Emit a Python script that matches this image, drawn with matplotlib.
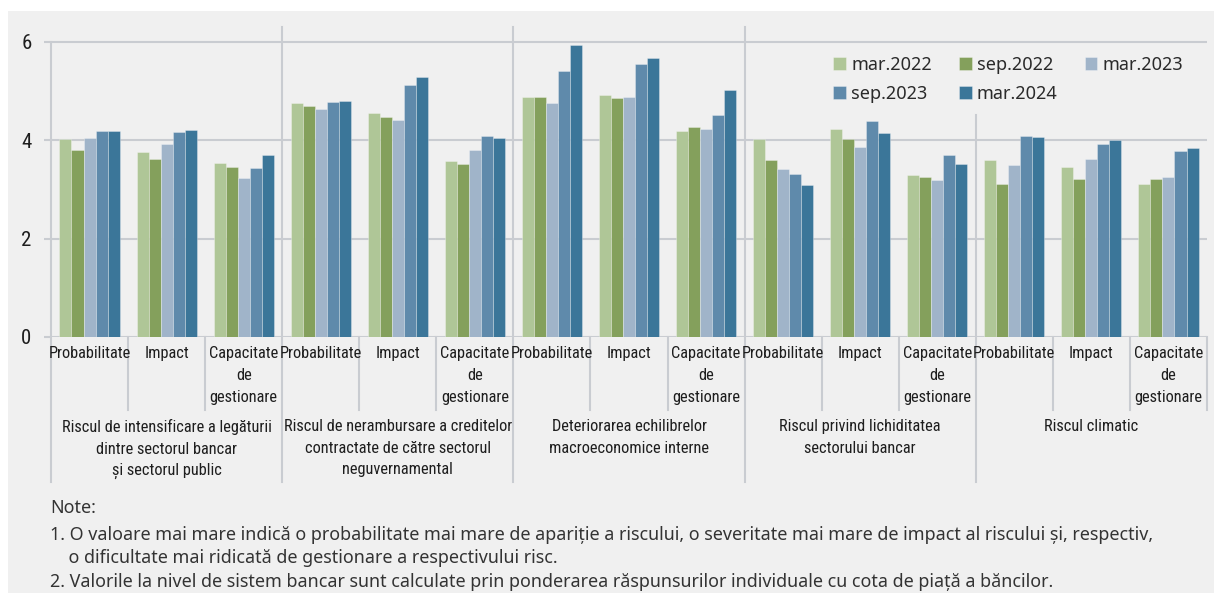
import numpy as np
import matplotlib.pyplot as plt
from matplotlib import font_manager as fm
from matplotlib.patches import Rectangle
from matplotlib.lines import Line2D

# ---- data ----
periods = ["mar.2022", "sep.2022", "mar.2023", "sep.2023", "mar.2024"]
colors = ["#afc697", "#84a05c", "#a0b4c9", "#5f8aab", "#3b7699"]

sub_labels = ["Probabilitate", "Impact", "Capacitate\nde\ngestionare"]
group_labels = [
    "Riscul de intensificare a legăturii\ndintre sectorul bancar\nși sectorul public",
    "Riscul de nerambursare a creditelor\ncontractate de către sectorul\nneguvernamental",
    "Deteriorarea echilibrelor\nmacroeconomice interne",
    "Riscul privind lichiditatea\nsectorului bancar",
    "Riscul climatic",
]

# one list per period, 15 values (5 risks x prob / impact / capacitate)
mar2022 = [4.02, 3.76, 3.53, 4.75, 4.55, 3.58, 4.87, 4.92, 4.19, 4.02, 4.22, 3.30, 3.59, 3.46, 3.11]
sep2022 = [3.80, 3.61, 3.45, 4.69, 4.48, 3.51, 4.87, 4.86, 4.27, 3.60, 4.02, 3.26, 3.11, 3.22, 3.22]
mar2023 = [4.05, 3.93, 3.23, 4.63, 4.41, 3.81, 4.76, 4.87, 4.22, 3.42, 3.87, 3.20, 3.50, 3.62, 3.26]
sep2023 = [4.18, 4.16, 3.43, 4.78, 5.13, 4.09, 5.41, 5.54, 4.52, 3.31, 4.39, 3.70, 4.09, 3.93, 3.78]
mar2024 = [4.18, 4.21, 3.70, 4.79, 5.28, 4.04, 5.94, 5.67, 5.02, 3.09, 4.14, 3.52, 4.07, 4.01, 3.85]
series = [mar2022, sep2022, mar2023, sep2023, mar2024]

note_lines = [
    "Note:",
    "1. O valoare mai mare indică o probabilitate mai mare de apariție a riscului, o severitate mai mare de impact al riscului și, respectiv,",
    "    o dificultate mai ridicată de gestionare a respectivului risc.",
    "2. Valorile la nivel de sistem bancar sunt calculate prin ponderarea răspunsurilor individuale cu cota de piață a băncilor.",
]


def narrow_font():
    # first condensed face available on this machine
    for fam in ["Liberation Sans Narrow", "DejaVu Sans Condensed",
                "Noto Sans Condensed", "Roboto Condensed", "Open Sans Condensed"]:
        try:
            fm.findfont(fm.FontProperties(family=fam), fallback_to_default=False)
            return {"family": [fam, "DejaVu Sans"]}
        except ValueError:
            pass
    for fam in ["Noto Sans", "DejaVu Sans", "Open Sans", "Roboto"]:
        path = fm.findfont(fm.FontProperties(family=fam, stretch="condensed"))
        if "ondensed" in path:
            return {"family": [fam], "stretch": "condensed"}
    return {"family": ["Roboto", "DejaVu Sans"]}


NARROW = narrow_font()
REGULAR = {"family": ["Noto Sans", "DejaVu Sans"]}

# ---- layout (pixel based) ----
W, H = 1214, 601
BG = "#f0f0f0"
GRID = "#c9ccd1"
TXT = "#1e1e1e"

fig = plt.figure(figsize=(W / 100, H / 100), dpi=100)
fig.patch.set_facecolor("white")
fig.patches.append(Rectangle((8 / W, 1 - 593 / H), (W - 8) / W, (593 - 11) / H,
                             transform=fig.transFigure, facecolor=BG,
                             edgecolor="none", zorder=-10))

x0, x1, ytop, ybot = 51, 1207, 27, 337
ax = fig.add_axes([x0 / W, 1 - ybot / H, (x1 - x0) / W, (ybot - ytop) / H])
ax.set_facecolor("none")
ax.set_xlim(0, 15)
ax.set_ylim(0, 6.3)


def ay(py):
    # pixel row -> axes fraction
    return (ybot - py) / (ybot - ytop)


n = len(series)
bw = 0.156
xc = np.arange(15) + 0.5
for j, (vals, c, lab) in enumerate(zip(series, colors, periods)):
    ax.bar(xc + (j - (n - 1) / 2) * bw, vals, width=bw, color=c, label=lab,
           edgecolor=(1, 1, 1, 0.35), linewidth=0.6, zorder=3)

# grid and axes
for s in ax.spines.values():
    s.set_visible(False)
ax.set_yticks([0, 2, 4, 6])
ax.set_xticks([])
for v in [0, 2, 4, 6]:
    ax.axhline(v, color=GRID, lw=1.5, zorder=1)
ax.tick_params(axis="y", length=5, width=1.5, color=GRID, labelcolor=TXT, pad=9)
for t in ax.get_yticklabels():
    t.set_fontproperties(fm.FontProperties(size=15, **NARROW))
ax.add_line(Line2D([0, 0], [ay(482), ay(42)], transform=ax.get_xaxis_transform(),
                   color=GRID, lw=1.5, clip_on=False, zorder=2))

# separators between risk groups and sub-categories
for i in range(1, 15):
    if i % 3 == 0:
        top = ay(115) if i == 12 else 1.0
        bottom = ay(482)
    else:
        top, bottom = 0.0, ay(410)
    ax.add_line(Line2D([i, i], [bottom, top], transform=ax.get_xaxis_transform(),
                       color=GRID, lw=1.5, clip_on=False, zorder=2))
ax.add_line(Line2D([15, 15], [ay(410), 0], transform=ax.get_xaxis_transform(),
                   color=GRID, lw=1.5, clip_on=False, zorder=2))

# category labels
for i in range(15):
    ax.text(xc[i], ay(346), sub_labels[i % 3], transform=ax.get_xaxis_transform(),
            ha="center", va="top", fontsize=11.8, color=TXT,
            linespacing=1.6, multialignment="center", **NARROW)
for g, lab in enumerate(group_labels):
    ax.text(3 * g + 1.5, ay(419), lab, transform=ax.get_xaxis_transform(),
            ha="center", va="top", fontsize=11.8, color=TXT,
            linespacing=1.55, multialignment="center", **NARROW)

# legend in row order
h, l = ax.get_legend_handles_labels()
order = [0, 3, 1, 4, 2]
leg = ax.legend([h[k] for k in order], [l[k] for k in order], ncol=3,
                loc="upper left", bbox_to_anchor=(833 / W, 1 - 56 / H),
                bbox_transform=fig.transFigure, frameon=False,
                prop=fm.FontProperties(size=13, **REGULAR),
                handlelength=0.7, handleheight=0.7, handletextpad=0.3,
                columnspacing=1.5, labelspacing=0.6, borderpad=0, borderaxespad=0)
for t in leg.get_texts():
    t.set_color("#2a2a2a")

# notes
note_y = [508, 535, 558, 582]
for txt, py in zip(note_lines, note_y):
    fig.text(50 / W, 1 - py / H, txt, ha="left", va="center", fontsize=12.9,
             color="#333333", **REGULAR)

fig.savefig("out.png", dpi=100, facecolor=fig.get_facecolor())
